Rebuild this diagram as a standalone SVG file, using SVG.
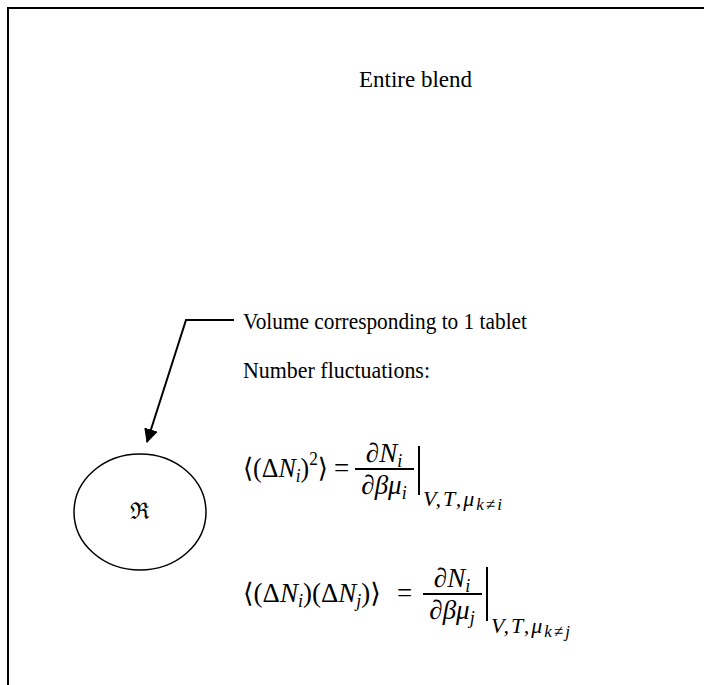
<svg xmlns="http://www.w3.org/2000/svg" width="704" height="685" viewBox="0 0 704 685">
<defs>
<style>
.t{font-family:"Liberation Serif","DejaVu Serif",serif;font-size:23px;fill:#000}
.m{font-family:"Liberation Serif","DejaVu Serif",serif;font-size:27px;fill:#000}
.i{font-style:italic}
.s{font-size:18px}
.sub{font-family:"Liberation Serif","DejaVu Serif",serif;font-style:italic;font-size:22px;letter-spacing:2px;fill:#000}
.ss{font-size:17px}
.ln{stroke:#000;stroke-width:2;fill:none}
</style>
<marker id="ah" markerWidth="14" markerHeight="14" refX="13" refY="7" orient="auto" markerUnits="userSpaceOnUse" viewBox="0 0 14 14">
<path d="M0,0 L14,7 L0,14 Z" fill="#000"/>
</marker>
</defs>
<rect id="blend" x="8" y="8" width="700" height="690" fill="#fff" stroke="#000" stroke-width="2"/>
<g id="blend-label"><text class="t" x="359" y="87">Entire blend</text></g>
<g id="tablet">
<ellipse cx="140" cy="512" rx="66" ry="58" fill="#fff" stroke="#000" stroke-width="1.5"/>
<text class="t" x="140" y="519" text-anchor="middle" font-size="21">ℜ</text>
</g>
<g id="volume-label"><text class="t" x="243" y="329" textLength="284" lengthAdjust="spacingAndGlyphs">Volume corresponding to 1 tablet</text></g>
<g id="fluct-label"><text class="t" x="243" y="378" textLength="187" lengthAdjust="spacingAndGlyphs">Number fluctuations:</text></g>
<g id="eq1">
<text class="m" x="243" y="477" textLength="85" lengthAdjust="spacingAndGlyphs">⟨(Δ<tspan class="i">N</tspan><tspan class="i s" dy="5">i</tspan><tspan dy="-5">)</tspan><tspan class="s" dy="-12">2</tspan><tspan dy="12">⟩</tspan></text>
<text class="m" x="334" y="477">=</text>
<text class="m" x="384" y="462" text-anchor="middle">∂<tspan class="i">N</tspan><tspan class="i s" dy="5">i</tspan></text>
<line class="ln" x1="355" y1="469" x2="414" y2="469" stroke-width="1.5"/>
<text class="m" x="384" y="494" text-anchor="middle">∂<tspan class="i">βμ</tspan><tspan class="i s" dy="5">i</tspan></text>
<line class="ln" x1="419" y1="446" x2="419" y2="495" stroke-width="1.5"/>
<text class="sub" x="423" y="506">V,T,μ<tspan class="ss" dy="4">k≠i</tspan></text>
</g>
<g id="eq2">
<text class="m" x="243" y="602">⟨(Δ<tspan class="i">N</tspan><tspan class="i s" dy="5">i</tspan><tspan dy="-5">)(Δ</tspan><tspan class="i">N</tspan><tspan class="i s" dy="5">j</tspan><tspan dy="-5">)⟩</tspan></text>
<text class="m" x="397" y="602">=</text>
<text class="m" x="452" y="587" text-anchor="middle">∂<tspan class="i">N</tspan><tspan class="i s" dy="5">i</tspan></text>
<line class="ln" x1="423" y1="594" x2="482" y2="594" stroke-width="1.5"/>
<text class="m" x="452" y="619" text-anchor="middle">∂<tspan class="i">βμ</tspan><tspan class="i s" dy="5">j</tspan></text>
<line class="ln" x1="487" y1="567" x2="487" y2="621" stroke-width="1.5"/>
<text class="sub" x="491" y="633">V,T,μ<tspan class="ss" dy="4">k≠j</tspan></text>
</g>
<g id="connectors">
<polyline class="ln" points="234,320 186,320 147,442" marker-end="url(#ah)"/>
</g>
</svg>
